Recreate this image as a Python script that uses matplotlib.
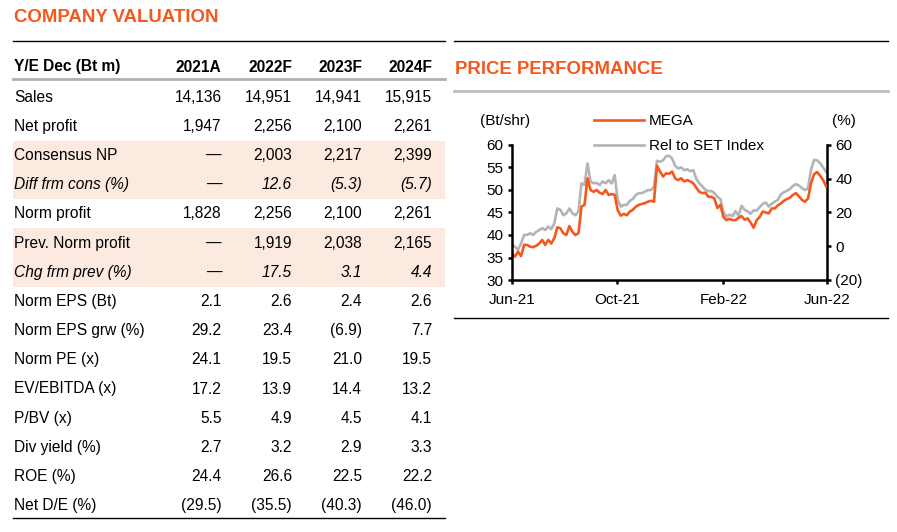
import numpy as np
import pandas as pd
import matplotlib
matplotlib.use("Agg")
import matplotlib.pyplot as plt
from matplotlib.lines import Line2D
from matplotlib.patches import Rectangle

plt.rcParams['font.family'] = ['Liberation Sans', 'DejaVu Sans']

# -----------------------
# Table data
# -----------------------
years = ['2021A', '2022F', '2023F', '2024F']
row_labels = ['Sales', 'Net profit', 'Consensus NP', 'Diff frm cons (%)',
              'Norm profit', 'Prev. Norm profit', 'Chg frm prev (%)',
              'Norm EPS (Bt)', 'Norm EPS grw (%)', 'Norm PE (x)',
              'EV/EBITDA (x)', 'P/BV (x)', 'Div yield (%)', 'ROE (%)', 'Net D/E (%)']
row_values = [
    ['14,136', '14,951', '14,941', '15,915'],
    ['1,947', '2,256', '2,100', '2,261'],
    ['\u2014', '2,003', '2,217', '2,399'],
    ['\u2014', '12.6', '(5.3)', '(5.7)'],
    ['1,828', '2,256', '2,100', '2,261'],
    ['\u2014', '1,919', '2,038', '2,165'],
    ['\u2014', '17.5', '3.1', '4.4'],
    ['2.1', '2.6', '2.4', '2.6'],
    ['29.2', '23.4', '(6.9)', '7.7'],
    ['24.1', '19.5', '21.0', '19.5'],
    ['17.2', '13.9', '14.4', '13.2'],
    ['5.5', '4.9', '4.5', '4.1'],
    ['2.7', '3.2', '2.9', '3.3'],
    ['24.4', '26.6', '22.5', '22.2'],
    ['(29.5)', '(35.5)', '(40.3)', '(46.0)'],
]
italic_rows = ['Diff frm cons (%)', 'Chg frm prev (%)']
shaded_rows = ['Consensus NP', 'Diff frm cons (%)', 'Prev. Norm profit', 'Chg frm prev (%)']

# -----------------------
# Price performance data (every 3.5 days)
# -----------------------
dates = pd.date_range('2021-06-01', periods=105, freq='84h')
mega_price = [35.9, 35.2, 36.3, 35.3, 37.8, 37.8, 37.4, 37.3, 37.6, 38.1,
              38.9, 37.8, 38.9, 38.1, 39.3, 41.7, 41.5, 40.4, 40.0, 42.0,
              40.7, 40.0, 40.4, 46.3, 46.7, 52.6, 50.0, 49.6, 50.0, 49.4,
              49.1, 50.0, 48.9, 49.1, 48.9,
              45.5, 44.3, 44.7, 44.4, 45.2, 45.6, 46.3, 46.7, 46.9, 47.1,
              47.4, 47.6, 47.4, 55.4, 54.1, 53.0, 53.7, 53.6, 54.1, 52.6,
              52.2, 52.6, 51.9, 52.2, 51.9, 51.5, 50.5, 49.6, 49.3, 49.4,
              48.5, 48.5, 48.1, 46.0, 46.7,
              44.0, 43.3, 43.6, 43.3, 43.3, 43.8, 44.2, 43.4, 43.7, 42.8,
              41.6, 43.3, 44.0, 45.2, 45.0, 44.8, 45.9, 45.9, 46.6, 47.0,
              47.6, 48.0, 48.3, 48.9, 49.3, 48.6, 47.8, 47.4, 48.1, 51.5,
              53.5, 54.0, 53.2, 52.2, 50.8]
rel_set = [0.8, -0.3, -2.1, 1.6, 6.7, 6.7, 7.7, 6.7, 8.5, 9.6,
           10.7, 9.6, 11.7, 10.1, 13.6, 22.4, 21.6, 18.4, 19.5, 22.4,
           19.5, 18.4, 20.5, 37.3, 36.3, 49.1, 38.4, 37.3, 37.6, 36.3,
           38.4, 37.3, 39.2, 37.3, 42.1,
           27.5, 23.5, 24.5, 24.5, 26.9, 28.0, 30.4, 31.5, 31.5, 32.3,
           33.3, 33.3, 35.2, 50.7, 50.1, 50.9, 53.3, 53.6, 52.0, 47.7,
           46.1, 46.7, 45.1, 45.6, 44.5, 45.1, 40.0, 37.3, 35.5, 33.6,
           32.5, 32.8, 31.5, 29.3, 28.0,
           20.0, 17.6, 18.7, 17.9, 20.8, 18.1, 24.0, 21.6, 20.8, 19.2,
           21.3, 21.1, 23.2, 25.1, 25.9, 23.5, 25.3, 26.4, 27.5, 30.7,
           32.0, 32.8, 33.9, 35.7, 36.8, 36.0, 34.4, 33.3, 34.4, 45.3,
           51.2, 50.9, 49.3, 46.7, 44.0]
tick_dates = pd.to_datetime(['2021-06-01', '2021-10-01', '2022-02-01', '2022-06-01'])
tick_labels = ['Jun-21', 'Oct-21', 'Feb-22', 'Jun-22']

ORANGE = '#F5581C'
GREY = '#B4B4B4'
SHADE = '#FCE9E0'

W, H = 897, 532
fig = plt.figure(figsize=(W / 100, H / 100), dpi=100)


def fx(x):
    return x / W


def fy(y):
    return 1 - y / H


def hline(y, x0, x1, color='black', lw=1.0):
    fig.add_artist(Line2D([fx(x0), fx(x1)], [fy(y), fy(y)], color=color,
                          lw=lw, transform=fig.transFigure))


# -----------------------
# Valuation table
# -----------------------
fig.text(fx(14), fy(18), 'COMPANY VALUATION', color=ORANGE, fontsize=13.4,
         fontweight='bold', va='center', ha='left')
hline(41, 13, 445, lw=1.0)

col_right = [221.5, 292, 362, 432]
fig.text(fx(14), fy(67), 'Y/E Dec (Bt m)', fontsize=11.2, fontweight='bold',
         va='center', ha='left')
for yr, xr in zip(years, col_right):
    fig.text(fx(xr), fy(67), yr, fontsize=11.2, fontweight='bold', va='center', ha='right')
hline(79, 13, 445, color='#B0B0B0', lw=2.0)

row_y0, row_step = 97, 29.2
for i, (lab, vals) in enumerate(zip(row_labels, row_values)):
    y = row_y0 + i * row_step
    if lab in shaded_rows:
        fig.add_artist(Rectangle((fx(13), fy(y + row_step / 2)), fx(445) - fx(13),
                                 row_step / H, transform=fig.transFigure,
                                 color=SHADE, lw=0, zorder=0))
    style = 'italic' if lab in italic_rows else 'normal'
    fig.text(fx(14), fy(y), lab, fontsize=11.2, style=style, va='center', ha='left')
    for v, xr in zip(vals, col_right):
        fig.text(fx(xr), fy(y), v, fontsize=11.2, style=style, va='center', ha='right')
hline(518, 13, 445, lw=1.0)

# -----------------------
# Price performance panel
# -----------------------
hline(41, 454, 888, lw=1.0)
fig.text(fx(455), fy(70), 'PRICE PERFORMANCE', color=ORANGE, fontsize=13.4,
         fontweight='bold', va='center', ha='left')
hline(91, 454, 888, color='#BFBFBF', lw=2.0)
hline(318, 454, 888, lw=1.0)

ax = fig.add_axes([fx(512), fy(280), (827 - 512) / W, (280 - 145) / H])
ax2 = ax.twinx()

l_rel, = ax2.plot(dates, rel_set, color=GREY, lw=1.9, label='Rel to SET Index')
l_mega, = ax.plot(dates, mega_price, color=ORANGE, lw=1.9, label='MEGA')
ax.set_zorder(ax2.get_zorder() + 1)
ax.patch.set_visible(False)

ax.set_xlim(tick_dates[0], tick_dates[-1])
ax.set_ylim(30, 60)
ax.set_yticks(np.arange(30, 61, 5))
ax2.set_ylim(-20, 60)
ax2.set_yticks([-20, 0, 20, 40, 60])
ax2.set_yticklabels(['(20)', '0', '20', '40', '60'])
ax.set_xticks(tick_dates)
ax.set_xticklabels(tick_labels)

for a in (ax, ax2):
    a.spines['top'].set_visible(False)
    for s in ('left', 'right', 'bottom'):
        a.spines[s].set_linewidth(1.8)
    a.tick_params(direction='out', length=3, width=1.8, labelsize=11, pad=3)
ax.tick_params(axis='x', pad=6)
ax.spines['right'].set_visible(False)
ax2.spines['left'].set_visible(False)
ax2.spines['bottom'].set_visible(False)

fig.text(fx(480), fy(121), '(Bt/shr)', fontsize=11, va='center', ha='left')
fig.text(fx(856), fy(121), '(%)', fontsize=11, va='center', ha='right')

fig.legend([l_mega, l_rel], ['MEGA', 'Rel to SET Index'], loc='upper left',
           bbox_to_anchor=(fx(594), fy(114)), frameon=False, fontsize=11,
           handlelength=3.3, handletextpad=0.3, labelspacing=0.75, borderpad=0,
           borderaxespad=0)

fig.savefig('out.png', dpi=100)
